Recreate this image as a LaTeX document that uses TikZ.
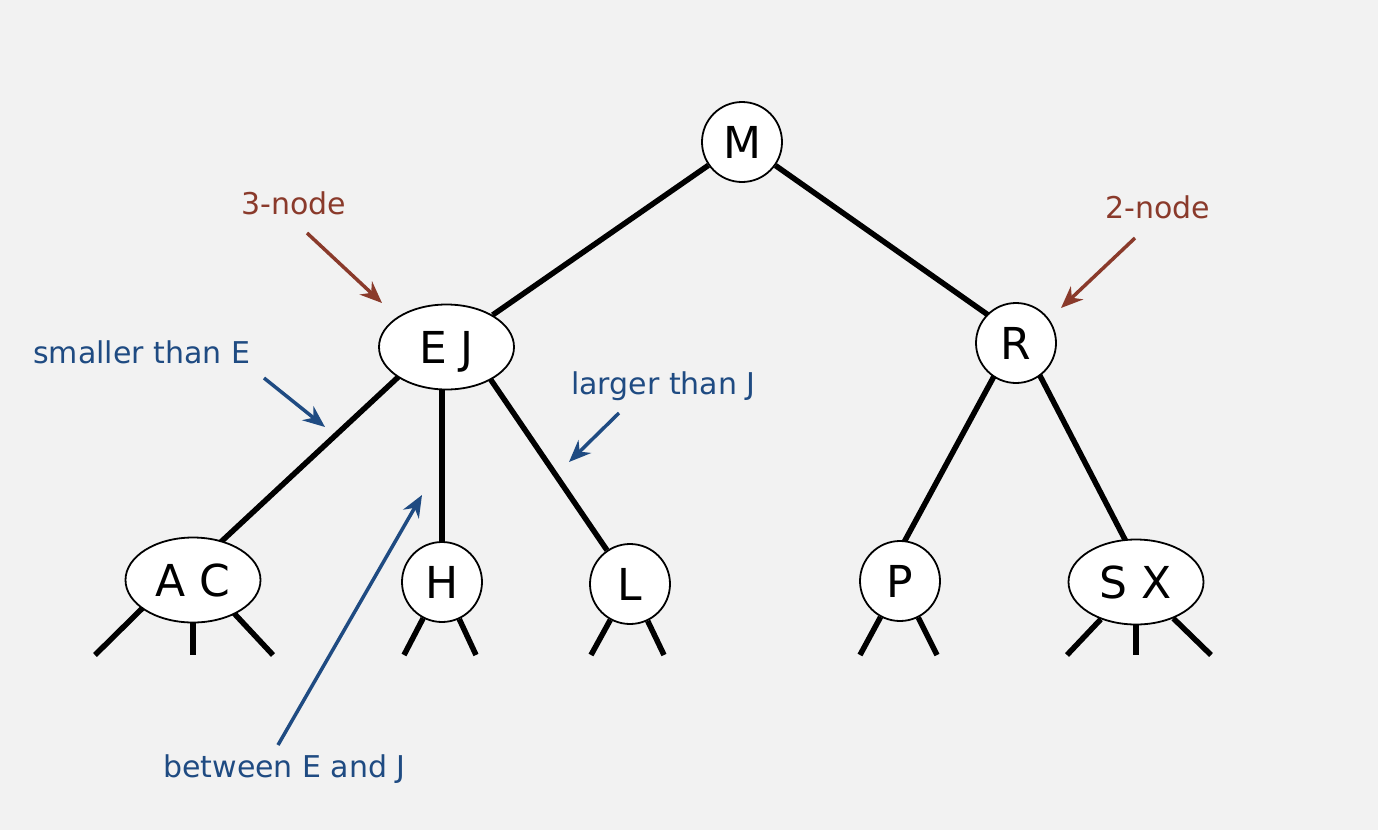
\documentclass[tikz,border=0pt]{standalone}
\usepackage{fontspec}
\setmainfont{DejaVu Sans}
\usetikzlibrary{arrows.meta,shapes.geometric,calc}
\definecolor{bg}{HTML}{F2F2F2}
\definecolor{brn}{HTML}{8A3A2B}
\definecolor{blu}{HTML}{1F4B82}
\pgfdeclarelayer{edges}
\pgfsetlayers{edges,main}
\tikzset{
  tnode/.style={draw=black,line width=1.8pt,fill=white,inner sep=0pt,
    text height=32pt,text depth=0pt,font=\fontsize{44}{50}\selectfont},
  cnode/.style={tnode,circle,minimum size=80pt},
  enode/.style={tnode,ellipse,minimum width=135pt,minimum height=85pt},
  edge/.style={line width=5.5pt,black},
  lbl/.style={anchor=base west,inner sep=0pt,font=\fontsize{30}{36}\selectfont},
  brnarrow/.style={brn,line width=3.5pt,-{Stealth[length=22pt,width=18pt]}},
  bluarrow/.style={blu,line width=3.5pt,-{Stealth[length=22pt,width=18pt]}}
}
\begin{document}
\begin{tikzpicture}[x=1pt,y=-1pt]
\begin{pgfonlayer}{edges}
\fill[bg] (0,0) rectangle (1378,830);
\end{pgfonlayer}
\useasboundingbox (0,0) rectangle (1378,830);
% nodes
\node[cnode] (M) at (742,142) {M};
\node[enode] (EJ) at (446.5,347) {E J};
\node[cnode] (R) at (1016,343) {R};
\node[enode] (AC) at (193,580) {A C};
\node[cnode] (H) at (442,582) {H};
\node[cnode] (L) at (630,584) {L};
\node[cnode] (P) at (900,581) {P};
\node[enode] (SX) at (1136,582) {S X};
% stub ends
\coordinate (ac1) at (95,655);
\coordinate (ac2) at (193,655);
\coordinate (ac3) at (273,655);
\coordinate (h1) at (404,655);
\coordinate (h2) at (476,655);
\coordinate (l1) at (591,655);
\coordinate (l2) at (664,655);
\coordinate (p1) at (860,655);
\coordinate (p2) at (937,655);
\coordinate (sx1) at (1067,655);
\coordinate (sx2) at (1136,655);
\coordinate (sx3) at (1211,655);
% edges (behind nodes)
\begin{pgfonlayer}{edges}
\draw[edge] (M) -- (EJ);
\draw[edge] (M) -- ($(R)+(12,0)$);
\draw[edge] ($(EJ)+(-16,0)$) -- ($(AC)+(-13,0)$);
\draw[edge] (H |- EJ) -- (H);
\draw[edge] ($(EJ)+(22,0)$) -- (L);
\draw[edge] ($(R)+(-4,0)$) -- ($(P)+(-17,0)$);
\draw[edge] ($(R)+(7,0)$) -- ($(SX)+(11,0)$);
\draw[edge] ($(AC)+(-22,0)$) -- (ac1);
\draw[edge] (AC) -- (ac2);
\draw[edge] ($(AC)+(10,0)$) -- (ac3);
\draw[edge] (H) -- (h1);
\draw[edge] (H) -- (h2);
\draw[edge] (L) -- (l1);
\draw[edge] (L) -- (l2);
\draw[edge] (P) -- (p1);
\draw[edge] (P) -- (p2);
\draw[edge] (SX) -- (sx1);
\draw[edge] (SX) -- (sx2);
\draw[edge] (SX) -- (sx3);
\end{pgfonlayer}
% labels
\node[lbl,brn] (l3) at (241,214) {3-node};
\node[lbl,brn] (l2n) at (1105,218) {2-node};
\node[lbl,blu] (lsm) at (33,363) {smaller than E};
\node[lbl,blu] (llg) at (571,394) {larger than J};
\node[lbl,blu] (lbt) at (163,777) {between E and J};
% arrow anchors
\coordinate (a3s) at (307,233); \coordinate (a3e) at (382,303);
\coordinate (a2s) at (1135,238); \coordinate (a2e) at (1061,308);
\coordinate (asms) at (264,378); \coordinate (asme) at (325,427);
\coordinate (algs) at (619,413); \coordinate (alge) at (569,462);
\coordinate (abts) at (278,745); \coordinate (abte) at (422,495);
\draw[brnarrow] (a3s) -- (a3e);
\draw[brnarrow] (a2s) -- (a2e);
\draw[bluarrow] (asms) -- (asme);
\draw[bluarrow] (algs) -- (alge);
\draw[bluarrow] (abts) -- (abte);
\end{tikzpicture}
\end{document}
